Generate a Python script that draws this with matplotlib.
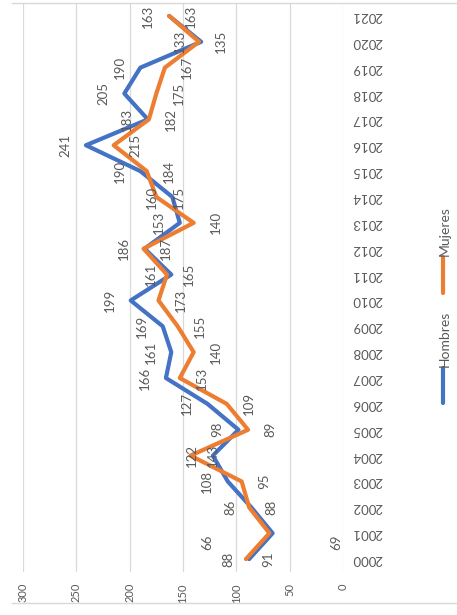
import matplotlib
matplotlib.use("Agg")
import matplotlib.pyplot as plt
from matplotlib.lines import Line2D

plt.rcParams['font.family'] = ['Lato', 'DejaVu Sans']

# Data (chart is shown rotated: values run right-to-left, years bottom-to-top)
years = list(range(2000, 2022))
hombres = [88, 66, 86, 108, 122, 98, 127, 166, 161, 169, 199, 161,
           186, 153, 160, 190, 241, 183, 205, 190, 133, 163]
mujeres = [91, 69, 88, 95, 143, 89, 109, 153, 140, 155, 173, 165,
           187, 140, 175, 184, 215, 182, 175, 167, 135, 163]
value_ticks = [0, 50, 100, 150, 200, 250, 300]

blue = '#4472C4'
orange = '#ED7D31'
text_grey = '#595959'
grid_grey = '#D9D9D9'

W, H = 457, 615
fig = plt.figure(figsize=(W / 100, H / 100), dpi=100)
ax = fig.add_axes([23 / W, 43 / H, (343 - 23) / W, (572 - 3) / H])

ax.plot(hombres, years, color=blue, lw=3, solid_joinstyle='round', solid_capstyle='round')
ax.plot(mujeres, years, color=orange, lw=3, solid_joinstyle='round', solid_capstyle='round')

ax.set_xlim(300, 0)
ax.set_ylim(1999.5, 2021.5)
for s in ax.spines.values():
    s.set_visible(False)
ax.set_xticks(value_ticks)
ax.set_xticklabels([str(v) for v in value_ticks], rotation=90, ha='center', va='top',
                   fontsize=8, color=text_grey)
ax.grid(axis='x', color=grid_grey, lw=0.9)
ax.set_axisbelow(True)
ax.tick_params(axis='x', length=0, pad=8)

ax.yaxis.tick_right()
ax.set_yticks(years)
ax.set_yticklabels([str(y) for y in years], rotation=180, va='center',
                   fontsize=9.5, color=text_grey)
ax.tick_params(axis='y', length=0, pad=6.5)

# data labels: Hombres on the left of its point, Mujeres on the right
moved = {2001: (32, -6.5)}
for yr, h, m in zip(years, hombres, mujeres):
    dx, dy = moved.get(yr, (0, 0))
    ax.annotate(str(h), (h, yr), xytext=(-15 - dx, dy), textcoords='offset points',
                rotation=90, ha='center', va='center', fontsize=9.5, color=text_grey)
    ax.annotate(str(m), (m, yr), xytext=(16 + dx, dy), textcoords='offset points',
                rotation=90, ha='center', va='center', fontsize=9.5, color=text_grey)

# chart border lines (top and bottom)
for py in (3, 603):
    fig.add_artist(Line2D([12 / W, 1], [1 - py / H, 1 - py / H], color=grid_grey, lw=1))

# legend drawn rotated
fig.add_artist(Line2D([443 / W, 443 / W], [1 - 403 / H, 1 - 368 / H], color=blue, lw=3,
                      solid_capstyle='round'))
fig.text(445 / W, 1 - 367 / H, 'Hombres', rotation=90, ha='center', va='bottom',
         fontsize=10, color=text_grey)
fig.add_artist(Line2D([443 / W, 443 / W], [1 - 293 / H, 1 - 257 / H], color=orange, lw=3,
                      solid_capstyle='round'))
fig.text(445 / W, 1 - 256 / H, 'Mujeres', rotation=90, ha='center', va='bottom',
         fontsize=10, color=text_grey)

fig.savefig('out.png', dpi=100)
